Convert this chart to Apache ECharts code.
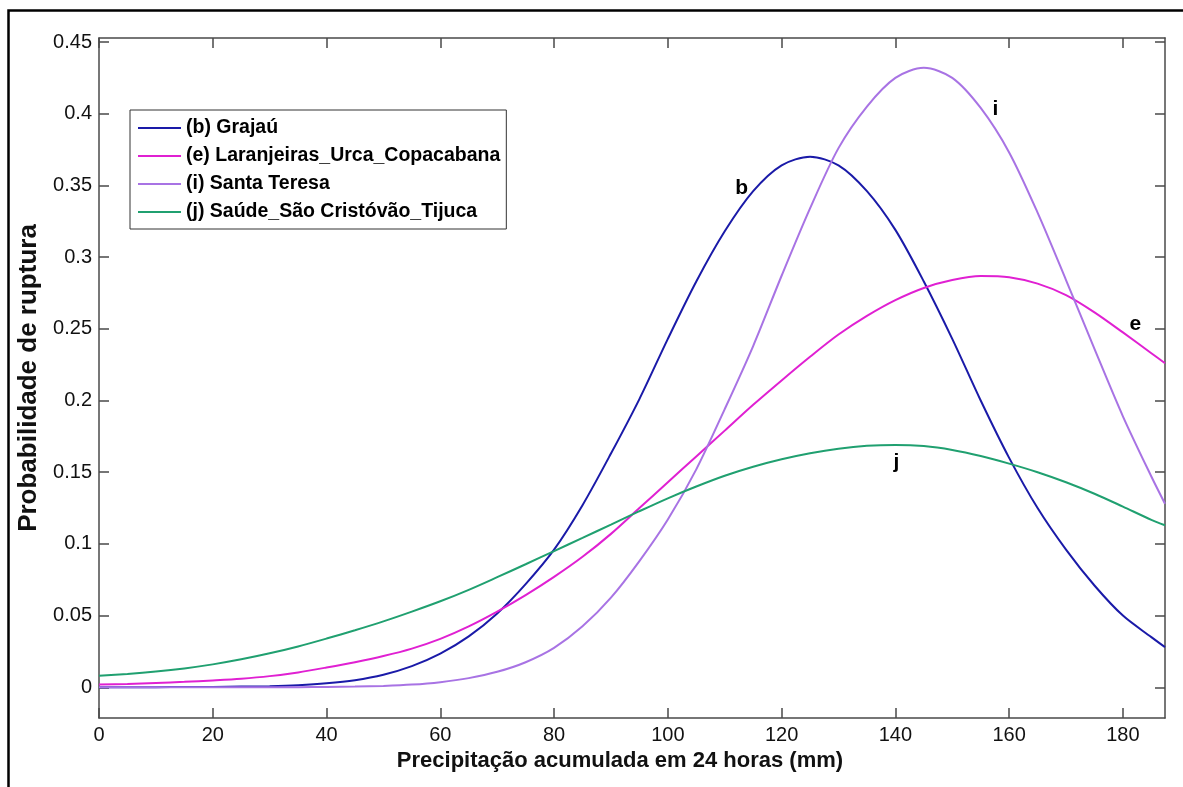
<!DOCTYPE html>
<html>
<head>
<meta charset="utf-8">
<script src="https://cdn.jsdelivr.net/npm/echarts@6/dist/echarts.min.js"></script>
<style>
  html, body { margin: 0; padding: 0; background: #fff; }
  #chart { width: 1183px; height: 787px; }
</style>
</head>
<body>
<div id="chart"></div>
<script>
// precipitacao (mm)
var xs = [0, 5, 10, 15, 20, 25, 30, 35, 40, 45, 50, 55, 60, 65, 70, 75, 80, 85, 90, 95,
  100, 105, 110, 115, 120, 125, 130, 135, 140, 145, 150, 155, 160, 165, 170, 175, 180, 185, 187.4]

var grajau = [0.0000, 0.0000, 0.0001, 0.0002, 0.0003, 0.0005, 0.0008, 0.0015, 0.0028, 0.0050, 0.0088, 0.0148, 0.0235, 0.0355, 0.0515, 0.0720, 0.0960, 0.1270, 0.1630, 0.2010,
  0.2430, 0.2830, 0.3180, 0.3460, 0.3640, 0.3700, 0.3640, 0.3460, 0.3190, 0.2830, 0.2430, 0.2000, 0.1600, 0.1250, 0.0960, 0.0710, 0.0500, 0.0350, 0.0280]

var laranjeiras = [0.0020, 0.0023, 0.0030, 0.0038, 0.0048, 0.0060, 0.0078, 0.0104, 0.0138, 0.0175, 0.0218, 0.0270, 0.0338, 0.0425, 0.0528, 0.0643, 0.0770, 0.0910, 0.1070, 0.1250,
  0.1430, 0.1610, 0.1790, 0.1970, 0.2140, 0.2305, 0.2460, 0.2590, 0.2700, 0.2785, 0.2840, 0.2868, 0.2860, 0.2815, 0.2735, 0.2615, 0.2475, 0.2330, 0.2260]

var santaTeresa = [0.0000, 0.0000, 0.0000, 0.0000, 0.0000, 0.0000, 0.0000, 0.0001, 0.0002, 0.0005, 0.0010, 0.0019, 0.0036, 0.0064, 0.0108, 0.0175, 0.0275, 0.0425, 0.0625, 0.0880,
  0.1170, 0.1520, 0.1940, 0.2380, 0.2870, 0.3340, 0.3760, 0.4050, 0.4250, 0.4320, 0.4250, 0.4040, 0.3730, 0.3310, 0.2840, 0.2360, 0.1890, 0.1470, 0.1280]

var saude = [0.0080, 0.0093, 0.0110, 0.0132, 0.0160, 0.0195, 0.0237, 0.0285, 0.0340, 0.0398, 0.0460, 0.0528, 0.0600, 0.0680, 0.0768, 0.0858, 0.0950, 0.1042, 0.1135, 0.1228,
  0.1318, 0.1400, 0.1475, 0.1538, 0.1590, 0.1632, 0.1664, 0.1684, 0.1690, 0.1682, 0.1655, 0.1613, 0.1560, 0.1500, 0.1430, 0.1350, 0.1260, 0.1168, 0.1130]

var names = ['(b) Grajaú', '(e) Laranjeiras_Urca_Copacabana', '(i) Santa Teresa', '(j) Saúde_São Cristóvão_Tijuca']
var colors = ['#1a1aa8', '#e020d2', '#a873e4', '#20a070']

var xTicks = [0, 20, 40, 60, 80, 100, 120, 140, 160, 180]
var yTicks = [0, 0.05, 0.1, 0.15, 0.2, 0.25, 0.3, 0.35, 0.4, 0.45]

// letras junto das curvas
var curveTags = [
  { name: 'b', coord: [113, 0.348] },
  { name: 'e', coord: [182.2, 0.253] },
  { name: 'i', coord: [157.6, 0.403] },
  { name: 'j', coord: [140.2, 0.157] }
]

var font = 'Liberation Sans, Arial, sans-serif'
var axisColor = '#4a4a4a'

function pairs(ys) {
  return xs.map(function (x, i) { return [x, ys[i]] })
}

function axisX(pos, labels) {
  return {
    type: 'value', position: pos, min: 0, max: 187.4,
    name: labels ? 'Precipitação acumulada em 24 horas (mm)' : '',
    nameLocation: 'middle', nameGap: 23,
    nameTextStyle: { fontFamily: font, fontSize: 22, fontWeight: 'bold', color: '#111', padding: [0, 24, 0, 0] },
    axisLine: { show: true, onZero: false, lineStyle: { color: axisColor, width: 1.5 } },
    axisTick: { show: true, inside: true, length: 10, customValues: xTicks, lineStyle: { color: axisColor, width: 1.5 } },
    axisLabel: { show: labels, customValues: xTicks, margin: 7, fontFamily: font, fontSize: 20, color: '#111' },
    splitLine: { show: false }
  }
}

function axisY(pos, labels) {
  return {
    type: 'value', position: pos, min: -0.0214, max: 0.4528,
    name: labels ? 'Probabilidade de ruptura' : '',
    nameLocation: 'middle', nameGap: 53,
    nameTextStyle: { fontFamily: font, fontSize: 26, fontWeight: 'bold', color: '#111' },
    axisLine: { show: true, onZero: false, lineStyle: { color: axisColor, width: 1.5 } },
    axisTick: { show: true, inside: true, length: 10, customValues: yTicks, lineStyle: { color: axisColor, width: 1.5 } },
    axisLabel: { show: labels, customValues: yTicks, margin: 7, fontFamily: font, fontSize: 20, color: '#111' },
    splitLine: { show: false }
  }
}

var series = [grajau, laranjeiras, santaTeresa, saude].map(function (ys, i) {
  var tag = curveTags[i]
  return {
    name: names[i],
    type: 'line',
    data: pairs(ys),
    smooth: 0.3,
    showSymbol: false,
    lineStyle: { color: colors[i], width: 2 },
    itemStyle: { color: colors[i] },
    markPoint: {
      symbol: 'circle', symbolSize: 1,
      itemStyle: { color: 'rgba(0,0,0,0)' },
      label: { show: true, position: 'inside', formatter: tag.name, fontFamily: font, fontSize: 21, fontWeight: 'bold', color: '#000' },
      data: [{ coord: tag.coord }]
    }
  }
})

var chart = echarts.init(document.getElementById('chart'))
chart.setOption({
  animation: false,
  backgroundColor: '#fff',
  grid: { left: 99, top: 38, right: 18, bottom: 69, containLabel: false },
  graphic: [{
    type: 'rect', left: 6, top: 8, z: -1,
    shape: { width: 1190, height: 790 },
    style: { fill: 'none', stroke: '#000', lineWidth: 2.5 }
  }],
  legend: {
    orient: 'vertical', left: 130, top: 110,
    icon: 'rect', itemWidth: 43, itemHeight: 2, itemGap: 8,
    padding: [8, 6, 7, 8],
    borderColor: '#333', borderWidth: 1, backgroundColor: '#fff',
    textStyle: { fontFamily: font, fontSize: 19.5, fontWeight: 'bold', color: '#000', lineHeight: 20 },
    data: names
  },
  xAxis: [axisX('bottom', true), axisX('top', false)],
  yAxis: [axisY('left', true), axisY('right', false)],
  series: series
})
</script>
</body>
</html>
